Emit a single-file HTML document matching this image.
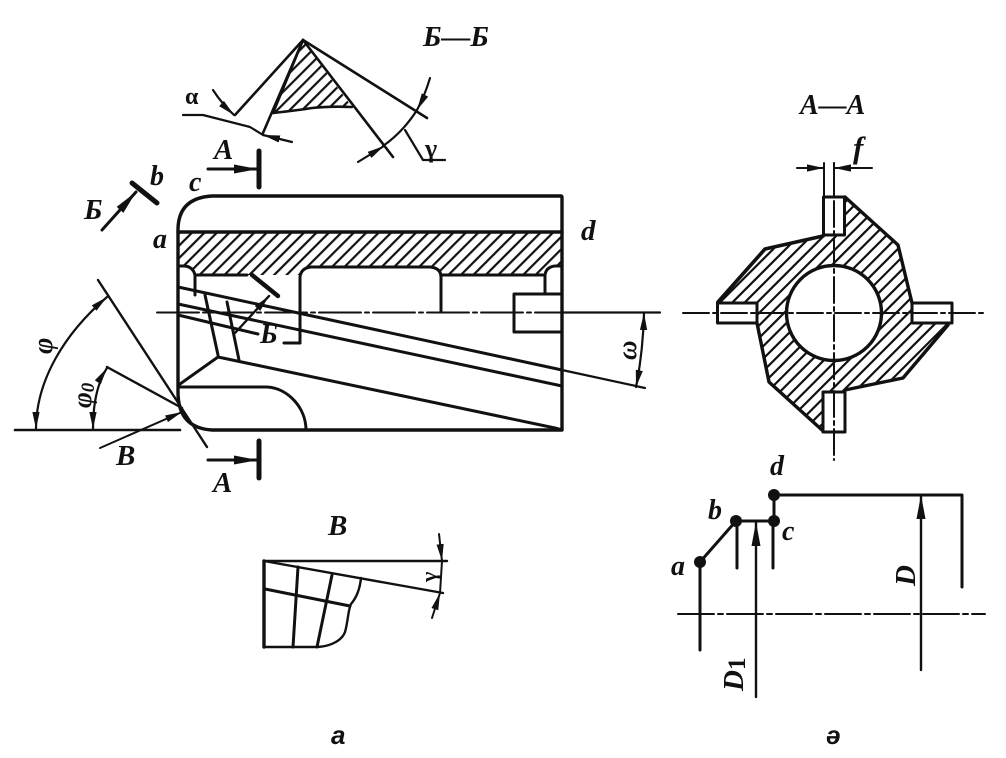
<!DOCTYPE html>
<html>
<head>
<meta charset="utf-8">
<style>
html,body{margin:0;padding:0;background:#fff;width:1006px;height:758px;overflow:hidden}
svg{display:block}
text{font-family:"Liberation Serif","DejaVu Serif",serif;font-weight:bold;font-style:italic;fill:#111}
.s{font-family:"Liberation Sans",sans-serif}
</style>
</head>
<body>
<svg width="1006" height="758" viewBox="0 0 1006 758" xmlns="http://www.w3.org/2000/svg">
<defs>
<pattern id="h1" width="8.8" height="8.8" patternUnits="userSpaceOnUse" patternTransform="rotate(-45)">
<rect x="0" y="0" width="8.8" height="2.2" fill="#111"/>
</pattern>
<marker id="a" markerUnits="userSpaceOnUse" markerWidth="20" markerHeight="12" refX="17" refY="6" orient="auto-start-reverse">
<path d="M0,2.4 L17,6 L0,9.6 Z" fill="#111"/>
</marker>
<marker id="b" markerUnits="userSpaceOnUse" markerWidth="26" markerHeight="14" refX="24" refY="7" orient="auto-start-reverse">
<path d="M0,2.5 L24,7 L0,11.5 Z" fill="#111"/>
</marker>
<clipPath id="sec"><polygon points="718,302 765,249 823,237 823,197 845,197 898,245 912,303 952,303 952,323 948,325 903,378 845,390 845,432 823,432 769,382 757,323 717,323"/></clipPath>
</defs>

<rect width="1006" height="758" fill="#fff"/>

<!-- A-A hatching -->
<g clip-path="url(#sec)"><path d="M634,113 L1034,513" fill="none" stroke="#111" stroke-width="500" stroke-dasharray="2.2 6.6"/></g>

<g fill="none" stroke="#111" stroke-width="3" stroke-linecap="round" stroke-linejoin="round">

<!-- Main body -->
<path fill="url(#h1)" stroke="none" d="M179,233 H561 V266 H555 Q546,267 545,275 H441 V277 Q440,267 430,267 H311 Q301,267 300,275 H195 Q192,266 186,266 H179 Z"/>
<path d="M212,196 H561 Q562,196 562,198 V430 H212 Q178,428 178,392 V230 Q178,198 212,196 Z" stroke-width="3.4"/>
<path d="M178,232 H562" stroke-width="3.4"/>
<path d="M195,295 V275 Q193,267 185,266 H178"/>
<path d="M195,275 H247 M300,343 V277 Q301,268 311,267 H430 Q441,268 441,277 V312"/>
<path d="M284,343 H300"/>
<path d="M441,275 H545 V294"/>
<path d="M545,275 Q546,267 555,266 H562"/>
<rect x="514" y="294" width="48" height="38"/>

<!-- Helical lines -->
<path d="M178,287 L562,370"/>
<path d="M178,304 L562,386"/>
<path d="M178,315 L258,334"/>
<path d="M180,384 L218,357 L555,428 L562,430"/>
<path d="M205,295 L218,355"/>
<path d="M227,302 L239,360"/>
<path d="M178,387 H267 C288,388 306,408 306,430"/>
<path d="M562,370 L645,388" stroke-width="2.2"/>

<!-- Center line -->
<path d="M157,312.5 H562" stroke-width="2" stroke-dasharray="42 4 4 4"/>
<path d="M562,312.5 H660" stroke-width="2.2"/>

<!-- Section mark inside -->
<path d="M252,275 L278,296" stroke-width="4.4"/>
<path d="M235,333 L269,296" stroke-width="2.4" marker-end="url(#a)"/>

<!-- Angles left -->
<path d="M15,430 H180" stroke-width="2.6"/>
<path d="M98,280 L207,447" stroke-width="2.4"/>
<path d="M107,367 L182,408" stroke-width="2.4"/>
<path d="M100,448 L182,412" stroke-width="2" marker-end="url(#a)"/>
<path d="M107,297 C65,333 36,380 36,429" stroke-width="2.2" marker-start="url(#a)" marker-end="url(#a)"/>
<path d="M107,368 C96,385 93,408 93,429" stroke-width="2.2" marker-start="url(#a)" marker-end="url(#a)"/>

<!-- Section A marks -->
<path d="M208,169 H258" stroke-width="3" marker-end="url(#b)"/>
<path d="M259,151 V187" stroke-width="5"/>
<path d="M208,460 H258" stroke-width="3" marker-end="url(#b)"/>
<path d="M259,441 V478" stroke-width="5"/>

<!-- Section B mark top -->
<path d="M132,183 L157,203" stroke-width="5"/>
<path d="M102,230 L136,192" stroke-width="3" marker-end="url(#b)"/>

<!-- omega -->
<path d="M644,313 Q643,352 636,387" stroke-width="2.2" marker-start="url(#a)" marker-end="url(#a)"/>

<!-- Top section -->
<path fill="url(#h1)" stroke="none" d="M303,41 L273,113 Q310,106 352,107 Z"/>
<path d="M303,40 L273,113 Q300,110 312,108 Q330,106 352,107" stroke-width="2.6"/>
<path d="M303,40 L235,115" stroke-width="2.6"/>
<path d="M303,40 L263,133" stroke-width="2.6"/>
<path d="M303,40 L427,118" stroke-width="2.6"/>
<path d="M303,40 L393,157" stroke-width="2.6"/>
<path d="M213,90 Q222,104 234,115" stroke-width="2.2" marker-end="url(#a)"/>
<path d="M183,115 H203 L250,127 L263,135" stroke-width="2.2"/>
<path d="M292,142 L263,135" stroke-width="2.2" marker-end="url(#a)"/>
<path d="M430,78 Q425,95 417,110" stroke-width="2.2" marker-end="url(#a)"/>
<path d="M417,110 Q403,132 383,146" stroke-width="2.2"/>
<path d="M358,162 L384,146" stroke-width="2.2" marker-end="url(#a)"/>
<path d="M405,130 L423,160 H445" stroke-width="2.2"/>

<!-- A-A section -->
<circle cx="834" cy="313" r="47.5" fill="#fff" stroke-width="3.4"/>
<path d="M845,197 L898,245 L912,303" stroke-width="3.4"/>
<path d="M948,325 L903,378 L845,390" stroke-width="3.4"/>
<path d="M822,430 L769,382 L757,323" stroke-width="3.4"/>
<path d="M718,302 L765,249 L823,236" stroke-width="3.6"/>
<rect x="823.5" y="197" width="21" height="38" fill="#fff"/>
<rect x="912" y="303" width="40" height="20" fill="#fff"/>
<rect x="823" y="392" width="22" height="40" fill="#fff"/>
<rect x="717.5" y="303" width="39.5" height="20" fill="#fff"/>
<path d="M683,313 H985" stroke-width="2" stroke-dasharray="26 4 4 4"/>
<path d="M834,163 V460" stroke-width="2" stroke-dasharray="26 4 4 4"/>
<path d="M824,163 V197" stroke-width="2"/>
<path d="M834,163 V197" stroke-width="2"/>
<path d="M797,168 H824" stroke-width="2" marker-end="url(#a)"/>
<path d="M872,168 H834" stroke-width="2" marker-end="url(#a)"/>

<!-- View B -->
<path d="M264,561 H447" stroke-width="2.4"/>
<path d="M264,561 L443,593" stroke-width="2.4"/>
<path d="M264,561 V647" stroke-width="3.4"/>
<path d="M264,647 H318 C332,646 342,640 345,632 C348,622 348,610 351,604 C357,597 360,588 361,578" stroke-width="2.4"/>
<path d="M265,589 L350,606" stroke-width="3"/>
<path d="M298,567 L293,647" stroke-width="3"/>
<path d="M332,575 L317,647" stroke-width="3"/>
<path d="M439,534 L442,561" stroke-width="2" marker-end="url(#a)"/>
<path d="M442,561 L440,593" stroke-width="2"/>
<path d="M432,618 L440,593" stroke-width="2" marker-end="url(#a)"/>

<!-- Bottom-right diagram -->
<path d="M774,495 H962 V587" stroke-width="3"/>
<path d="M774,495 V521 H736 L700,562 V650" stroke-width="3"/>
<path d="M737,521 V568" stroke-width="3"/>
<path d="M773,521 V568" stroke-width="3"/>
<path d="M678,614 H985" stroke-width="2" stroke-dasharray="36 4 5 4"/>
<path d="M756,697 V522" stroke-width="2.4" marker-end="url(#b)"/>
<path d="M921,670 V495" stroke-width="2.4" marker-end="url(#b)"/>
</g>
<g fill="#111">
<circle cx="774" cy="495" r="6"/>
<circle cx="774" cy="521" r="6"/>
<circle cx="736" cy="521" r="6"/>
<circle cx="700" cy="562" r="6"/>
</g>

<!-- Labels -->
<g font-size="29">
<text x="423" y="46" font-size="29">Б—Б</text>
<text x="185" y="104" style="font-style:normal" font-size="24">α</text>
<text x="425" y="157" style="font-style:normal" font-size="26">γ</text>
<text x="214" y="159">А</text>
<text x="189" y="191" font-size="28">c</text>
<text x="150" y="185" font-size="28">b</text>
<text x="84" y="219">Б</text>
<text x="153" y="248" font-size="28">a</text>
<text x="581" y="240" font-size="29">d</text>
<text x="260" y="343" font-size="28">Б</text>
<text x="116" y="465">В</text>
<text x="213" y="492">А</text>
<text x="328" y="535">В</text>
<text x="800" y="114" font-size="28">А—А</text>
<text x="853" y="158" font-size="31">f</text>
<text x="770" y="475" font-size="28">d</text>
<text x="708" y="519" font-size="28">b</text>
<text x="782" y="540" font-size="28">c</text>
<text x="671" y="575" font-size="28">a</text>
<text transform="translate(52,354) rotate(-90)" font-size="28">φ</text>
<text transform="translate(91,408) rotate(-90)" font-size="27">φ<tspan font-size="19" dy="3">0</tspan></text>
<text transform="translate(636,360) rotate(-90)" font-size="27">ω</text>
<text transform="translate(436,582) rotate(-90)" style="font-style:normal" font-size="22">γ</text>
<text transform="translate(915,586) rotate(-90)" font-size="29">D</text>
<text transform="translate(743,691) rotate(-90)" font-size="29">D<tspan font-size="25" dy="2" style="font-style:normal">1</tspan></text>
<text class="s" x="331" y="744" font-size="26">а</text>
<text class="s" x="826" y="744" font-size="26">ə</text>
</g>
</svg>
</body>
</html>
